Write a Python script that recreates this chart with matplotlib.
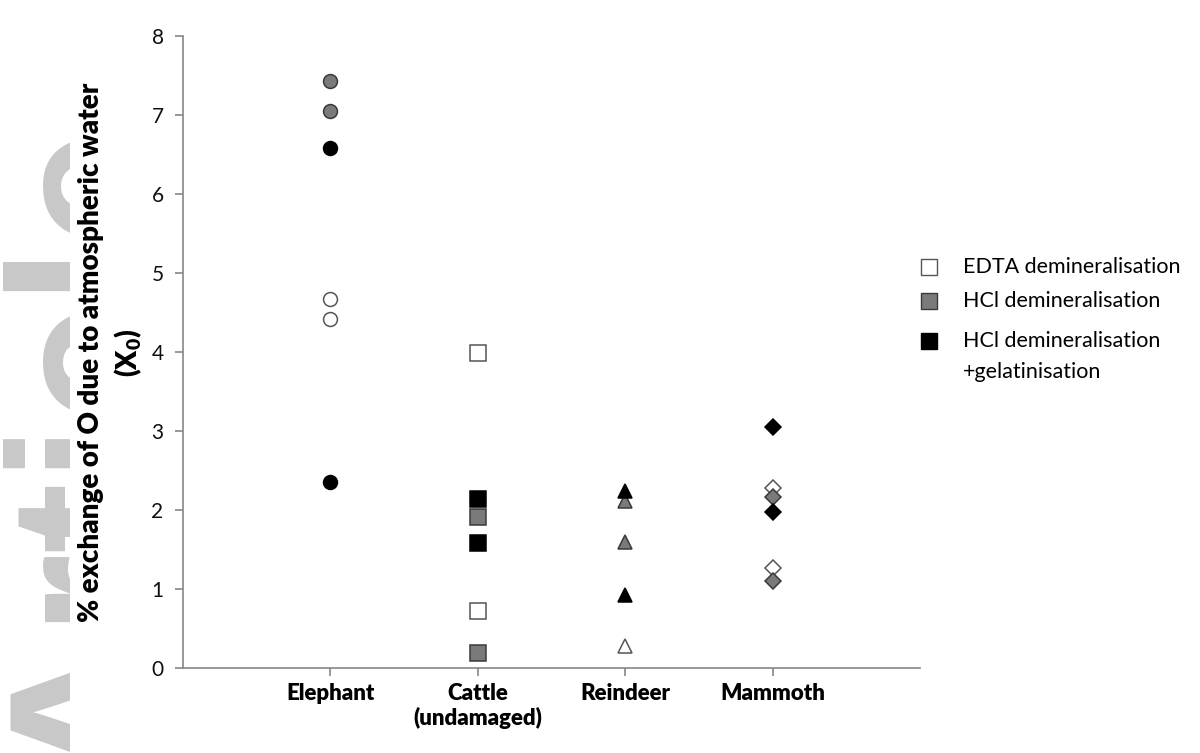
import matplotlib
matplotlib.use("Agg")
import matplotlib.pyplot as plt
from matplotlib.lines import Line2D
from matplotlib.patches import Rectangle

plt.rcParams['font.family'] = ['Lato', 'DejaVu Sans']
plt.rcParams['mathtext.fontset'] = 'custom'
plt.rcParams['mathtext.rm'] = 'Lato'
plt.rcParams['mathtext.bf'] = 'Lato:heavy'

categories = ["Elephant", "Cattle\n(undamaged)", "Reindeer", "Mammoth"]
markers = ["o", "s", "^", "D"]
marker_sizes = [10, 12, 10, 8.5]

edta_values = [[4.67, 4.42], [3.99, 0.72], [0.28], [2.28, 1.27]]
hcl_values = [[7.43, 7.05], [1.91, 0.19], [2.11, 1.60], [2.17, 1.10]]
gel_values = [[6.58, 2.36], [2.14, 1.58], [2.24, 0.93], [3.05, 1.97]]

series_labels = ["EDTA demineralisation", "HCl demineralisation",
                 "HCl demineralisation"]
extra_label = "+gelatinisation"
series_face = ["white", "#7a7a7a", "black"]
series_edge = ["#555555", "#3a3a3a", "black"]

fig = plt.figure(figsize=(12, 7.53), dpi=100)
ax = fig.add_axes([0.1525, 0.1129, 0.6142, 0.8393])

# watermark (publisher stamp, clipped at the left edge)
wm = fig.text(154 / 1200, 1 - 452 / 753, "Article", rotation=90, rotation_mode='anchor',
              ha='center', va='baseline', fontsize=153, color='#c8c8c8',
              family='Liberation Sans', weight='bold', zorder=0)
clip = Rectangle((0, 0), 70 / 1200, 1, transform=fig.transFigure)
wm.set_clip_path(clip)

for s, vals in enumerate([edta_values, hcl_values, gel_values]):
    for i, v in enumerate(vals):
        ax.plot([i + 1] * len(v), v, linestyle='none', marker=markers[i],
                markersize=marker_sizes[i], markerfacecolor=series_face[s],
                markeredgecolor=series_edge[s], markeredgewidth=1.1, zorder=3)

ax.set_xlim(0, 5)
ax.set_ylim(0, 8)
ax.set_xticks(range(1, 5))
ax.set_xticklabels(categories, fontsize=16, fontweight='heavy', linespacing=1.15)
ax.set_yticks(range(0, 9))
ax.tick_params(axis='y', labelsize=15, length=6, width=1.2, color='#868686',
               direction='out', pad=8, labelcolor='#111111')
ax.tick_params(axis='x', length=6, width=1.2, color='#868686', direction='out',
               pad=5)
for side in ['top', 'right']:
    ax.spines[side].set_visible(False)
for side in ['left', 'bottom']:
    ax.spines[side].set_color('#868686')
    ax.spines[side].set_linewidth(1.2)

fig.text(91 / 1200, 1 - 352 / 753, "% exchange of O due to atmospheric water",
         rotation=90, ha='center', va='center', fontsize=20, fontweight='heavy')
fig.text(128 / 1200, 1 - 353 / 753, r"(X$_\mathbf{0}$)",
         rotation=90, ha='center', va='center', fontsize=20, fontweight='heavy')

# legend
leg_y = [267, 301, 341]
for s in range(3):
    yf = 1 - leg_y[s] / 753
    fig.add_artist(Line2D([929 / 1200], [yf], transform=fig.transFigure,
                          marker='s', markersize=11, linestyle='none',
                          markerfacecolor=series_face[s],
                          markeredgecolor=series_edge[s], markeredgewidth=1.0))
    fig.text(963 / 1200, yf, series_labels[s], ha='left', va='center',
             fontsize=15.5)
fig.text(963 / 1200, 1 - 372 / 753, extra_label, ha='left', va='center',
         fontsize=15.5)

fig.savefig("out.png", dpi=100, facecolor='white')
